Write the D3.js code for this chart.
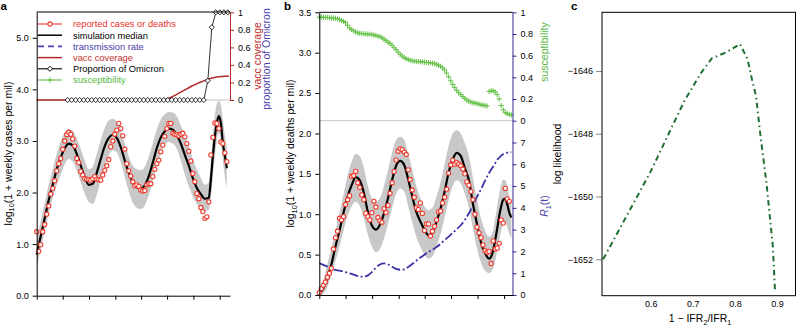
<!DOCTYPE html>
<html>
<head>
<meta charset="utf-8">
<script src="https://cdn.jsdelivr.net/npm/d3@7"></script>
<style>
  body { margin: 0; background: #fff; }
  svg { display: block; }
</style>
</head>
<body>
<script>
// weekly series start on 1 Apr 2020
const t0 = new Date(2020, 3, 1)

// a: log10(1 + weekly cases per mil), one value per week
const casesObs = [
  1.24, 0.86, 0.99, 1.24, 1.38, 1.58, 1.74, 1.97, 2.08, 2.23,
  2.42, 2.56, 2.66, 2.84, 3.00, 3.12, 3.17, 3.13, 3.04, 2.90,
  2.66, 2.58, 2.41, 2.34, 2.27, 2.26, 2.25, 2.24, 2.27, 2.31,
  2.26, 2.25, 2.24, 2.34, 2.43, 2.52, 2.64, 2.89, 3.00, 3.13,
  3.21, 3.34, 3.24, 3.10, 2.84, 2.56, 2.42, 2.32, 2.21, 2.13,
  2.15, 2.12, 2.05, 2.03, 2.04, 2.15, 2.17, 2.17, 2.31, 2.45,
  2.56, 2.63, 2.79, 2.92, 3.09, 3.24, 3.34, 3.34, 3.15, 3.13,
  3.12, 3.10, 3.13, 3.15, 3.08, 2.95, 2.80, 2.61, 2.37, 2.21,
  1.98, 1.88, 1.71, 1.63, 1.50, 1.53, 1.82, 2.73, 3.07, 3.35,
  3.34, 3.24, 2.98, 2.95, 2.77, 2.60
]

// simulation output weeks (shared by a and b)
const simWeeks = [
  0, 2, 4, 6, 8, 10, 12, 14, 16, 18, 20, 22, 24, 26, 28, 30, 32, 34, 36, 38,
  40, 42, 44, 46, 48, 50, 52, 54, 56, 58, 60, 62, 64, 66, 68, 70, 72, 74, 76, 78,
  80, 82, 84, 86, 87, 88, 89, 90, 91, 92, 93, 94, 95
]
const casesMedian = [
  0.80, 1.15, 1.50, 1.85, 2.15, 2.45, 2.68, 2.86, 2.95, 2.91, 2.75, 2.52, 2.30, 2.15, 2.17, 2.38, 2.65, 2.90, 3.06, 3.12,
  3.06, 2.88, 2.62, 2.38, 2.20, 2.10, 2.08, 2.14, 2.32, 2.58, 2.86, 3.07, 3.19, 3.24, 3.22, 3.11, 2.95, 2.73, 2.52, 2.28,
  2.09, 1.97, 1.88, 1.90, 2.25, 2.70, 3.08, 3.35, 3.48, 3.35, 2.96, 2.72, 2.47
]
const casesLow = [
  0.55, 0.90, 1.25, 1.60, 1.90, 2.15, 2.35, 2.55, 2.65, 2.60, 2.42, 2.20, 1.98, 1.82, 1.78, 1.95, 2.25, 2.50, 2.72, 2.82,
  2.78, 2.58, 2.30, 2.02, 1.80, 1.70, 1.68, 1.75, 1.95, 2.22, 2.52, 2.75, 2.92, 2.98, 2.95, 2.85, 2.62, 2.35, 2.12, 1.92,
  1.78, 1.70, 1.65, 1.66, 1.90, 2.30, 2.70, 3.00, 3.15, 3.00, 2.60, 2.30, 2.10
]
const casesHigh = [
  1.10, 1.45, 1.80, 2.15, 2.45, 2.75, 3.00, 3.17, 3.23, 3.20, 3.05, 2.85, 2.62, 2.45, 2.50, 2.75, 3.02, 3.25, 3.40, 3.43,
  3.38, 3.20, 2.95, 2.70, 2.52, 2.45, 2.43, 2.50, 2.70, 2.95, 3.22, 3.42, 3.52, 3.56, 3.55, 3.48, 3.30, 3.10, 2.90, 2.65,
  2.45, 2.28, 2.15, 2.20, 2.60, 3.10, 3.50, 3.72, 3.78, 3.70, 3.40, 3.10, 2.85
]

// a inset: vaccine coverage (every 2 weeks from week 0)
const vaccCoverage = [
  0, 0, 0, 0, 0, 0, 0, 0, 0, 0, 0, 0, 0, 0, 0, 0,
  0, 0, 0, 0, 0, 0, 0, 0, 0, 0, 0, 0, 0, 0, 0, 0,
  0.005, 0.02, 0.04, 0.065, 0.09, 0.115, 0.14, 0.165, 0.185, 0.205,
  0.222, 0.24, 0.252, 0.262, 0.268, 0.272, 0.275
]
// a inset: proportion of Omicron (every 2 weeks from week 15.5)
const omicronStart = 15.5
const omicronShare = [
  0, 0, 0, 0, 0, 0, 0, 0, 0, 0, 0, 0, 0, 0, 0, 0, 0, 0,
  0, 0, 0, 0, 0, 0, 0, 0, 0, 0, 0, 0, 0, 0, 0, 0, 0,
  0.22, 0.83, 1, 1, 1, 1
]

// b: log10(1 + weekly deaths per mil), one value per week
const deathsObs = [
  0.03, 0.08, 0.12, 0.16, 0.22, 0.27, 0.33, 0.57, 0.71, 0.79,
  0.95, 0.93, 0.97, 1.12, 1.18, 1.23, 1.47, 1.48, 1.53, 1.39,
  1.33, 1.24, 1.18, 1.01, 0.97, 0.93, 1.02, 1.16, 1.09, 0.96,
  0.92, 0.90, 1.07, 1.02, 1.11, 1.26, 1.39, 1.53, 1.67, 1.78,
  1.81, 1.80, 1.77, 1.74, 1.55, 1.43, 1.30, 1.21, 1.08, 1.06,
  1.14, 1.01, 0.80, 0.88, 0.88, 0.73, 0.79, 0.85, 0.93, 1.03,
  1.04, 1.14, 1.21, 1.31, 1.51, 1.61, 1.67, 1.62, 1.64, 1.62,
  1.60, 1.56, 1.50, 1.40, 1.36, 1.28, 1.18, 1.00, 0.84, 0.77,
  0.71, 0.62, 0.55, 0.53, 0.54, 0.39, 0.67, 0.57, 0.58, 0.64,
  0.93, 0.89, 1.32, 1.19, 1.16
]
const deathsMedian = [
  0.02, 0.08, 0.22, 0.38, 0.60, 0.80, 1.02, 1.22, 1.36, 1.46, 1.42, 1.27, 1.03, 0.86, 0.81, 0.87, 1.01, 1.20, 1.42, 1.60,
  1.66, 1.61, 1.43, 1.22, 1.03, 0.91, 0.81, 0.74, 0.77, 0.91, 1.07, 1.28, 1.52, 1.68, 1.76, 1.72, 1.57, 1.42, 1.13, 0.88,
  0.65, 0.52, 0.45, 0.55, 0.68, 0.82, 0.98, 1.10, 1.18, 1.19, 1.12, 1.02, 0.96
]
const deathsLow = [
  0.00, 0.02, 0.10, 0.25, 0.42, 0.60, 0.80, 0.98, 1.10, 1.15, 1.10, 0.95, 0.75, 0.60, 0.53, 0.57, 0.70, 0.88, 1.08, 1.25,
  1.32, 1.28, 1.10, 0.90, 0.72, 0.60, 0.50, 0.45, 0.48, 0.60, 0.76, 0.96, 1.18, 1.35, 1.42, 1.38, 1.25, 1.08, 0.82, 0.58,
  0.40, 0.30, 0.27, 0.33, 0.42, 0.55, 0.68, 0.80, 0.88, 0.90, 0.84, 0.76, 0.70
]
const deathsHigh = [
  0.05, 0.18, 0.38, 0.58, 0.80, 1.02, 1.25, 1.48, 1.65, 1.75, 1.72, 1.58, 1.35, 1.20, 1.16, 1.20, 1.35, 1.55, 1.76, 1.92,
  1.96, 1.92, 1.75, 1.55, 1.35, 1.20, 1.10, 1.05, 1.08, 1.22, 1.40, 1.62, 1.85, 2.00, 2.04, 2.00, 1.88, 1.72, 1.45, 1.18,
  0.95, 0.80, 0.72, 0.80, 0.95, 1.10, 1.25, 1.37, 1.43, 1.42, 1.35, 1.22, 1.15
]
// b: transmission rate R1(t) on simWeeks
const transmission = [
  1.45, 1.38, 1.30, 1.20, 1.15, 1.12, 1.08, 1.02, 0.97, 0.90, 0.85, 0.84, 0.90, 1.05, 1.25, 1.40, 1.45, 1.40, 1.30, 1.20,
  1.16, 1.18, 1.28, 1.42, 1.58, 1.72, 1.85, 1.97, 2.08, 2.20, 2.35, 2.52, 2.68, 2.85, 3.02, 3.20, 3.45, 3.75, 4.10, 4.50,
  4.85, 5.25, 5.60, 5.90, 6.05, 6.20, 6.30, 6.40, 6.46, 6.50, 6.53, 6.55, 6.56
]
// b inset: susceptibility, one value per week
const susceptibility = [
  0.955, 0.955, 0.954, 0.953, 0.952, 0.950, 0.948, 0.946, 0.944, 0.940,
  0.935, 0.925, 0.915, 0.905, 0.880, 0.855, 0.840, 0.828, 0.818, 0.810,
  0.806, 0.804, 0.802, 0.800, 0.798, 0.797, 0.795, 0.790, 0.786, 0.780,
  0.775, 0.765, 0.752, 0.738, 0.725, 0.714, 0.695, 0.673, 0.655, 0.632,
  0.612, 0.596, 0.582, 0.572, 0.564, 0.558, 0.553, 0.550, 0.547, 0.545,
  0.544, 0.542, 0.540, 0.538, 0.536, 0.533, 0.530, 0.526, 0.520, 0.512,
  0.502, 0.488, 0.468, 0.440, 0.405, 0.368, 0.335, 0.305, 0.280, 0.258,
  0.240, 0.222, 0.205, 0.190, 0.180, 0.172, 0.166, 0.162, 0.158, 0.152,
  0.148, 0.143, 0.140, 0.136, 0.270, 0.275, 0.277, 0.265, 0.240, 0.200,
  0.140, 0.100, 0.075, 0.065, 0.058, 0.053
]

// c: profile likelihood over 1 - IFR2/IFR1
const ifrReduction = [0.487, 0.6, 0.68, 0.72, 0.745, 0.78, 0.812, 0.83, 0.84, 0.85, 0.86, 0.875, 0.89, 0.895]
const logLik = [-1652.0, -1649.2, -1646.95, -1646.05, -1645.6, -1645.4, -1645.14, -1645.63, -1646.25, -1646.8, -1648.0, -1649.6, -1651.6, -1653.0]

const quarterTicks = [
  new Date(2020, 3, 1), new Date(2020, 6, 1), new Date(2020, 9, 1), new Date(2021, 0, 1),
  new Date(2021, 3, 1), new Date(2021, 6, 1), new Date(2021, 9, 1), new Date(2022, 0, 1)
]

const FONT = "'Liberation Sans', Arial, Helvetica, sans-serif"
const red = "#f03a2c"
const navy = "#2e2a8e"
const navyText = "#4a40aa"
const vaccRed = "#b02a2a"
const green = "#62c046"
const band = "#c8c8c8"

const weekDate = (w) => new Date(t0.getTime() + w * 7 * 864e5)

const svg = d3.select("body").append("svg")
  .attr("width", 796).attr("height", 327)
  .style("font-family", FONT)

function styleAxis(g, color, size = 9) {
  g.attr("font-family", FONT).attr("font-size", size)
  g.select(".domain").attr("stroke", color)
  g.selectAll(".tick line").attr("stroke", color)
  g.selectAll(".tick text").attr("fill", "#000")
}

function timeAxis(x, y0) {
  const g = svg.append("g").attr("transform", `translate(0,${y0})`)
    .call(d3.axisBottom(x).tickValues(quarterTicks).tickSize(4).tickSizeOuter(0).tickFormat(""))
  styleAxis(g, "#000")
  const fmt = d3.timeFormat("%b")
  quarterTicks.forEach((d) => {
    g.append("text").attr("x", x(d)).attr("y", 13.5)
      .attr("text-anchor", "middle").attr("font-size", 9).text(fmt(d))
    if (d.getMonth() === 0) {
      g.append("text").attr("x", x(d)).attr("y", 22.5)
        .attr("text-anchor", "middle").attr("font-size", 9).text(d.getFullYear())
    }
  })
}

function yTitle(x, y, parts, color = "#000", size = 10.5) {
  const t = svg.append("text")
    .attr("transform", `translate(${x},${y}) rotate(-90)`)
    .attr("text-anchor", "middle").attr("font-size", size).attr("fill", color)
  parts.forEach(([s, kind]) => {
    const ts = t.append("tspan").text(s)
    if (kind === "sub") ts.attr("font-size", size * 0.7).attr("dy", 2.5)
    if (kind === "back") ts.attr("dy", -2.5)
    if (kind === "it") ts.attr("font-style", "italic")
  })
}

const simA = simWeeks.map((w, i) => ({ date: weekDate(w), med: casesMedian[i], lo: casesLow[i], hi: casesHigh[i] }))
const simB = simWeeks.map((w, i) => ({ date: weekDate(w), med: deathsMedian[i], lo: deathsLow[i], hi: deathsHigh[i], r: transmission[i] }))

// ---------------- panel a ----------------
const xA = d3.scaleTime().domain([t0, new Date(2022, 1, 6)]).range([36.7, 230])
const yA = d3.scaleLinear().domain([0, 5.5]).range([295.7, 12])
const yAR = d3.scaleLinear().domain([0, 1]).range([100, 12.3])

svg.append("path").datum(simA)
  .attr("fill", band)
  .attr("d", d3.area().curve(d3.curveMonotoneX).x((d) => xA(d.date)).y0((d) => yA(d.lo)).y1((d) => yA(d.hi)))

svg.append("path").datum(simA)
  .attr("fill", "none").attr("stroke", "#000").attr("stroke-width", 2.2)
  .attr("d", d3.line().curve(d3.curveMonotoneX).x((d) => xA(d.date)).y((d) => yA(d.med)))

svg.append("g").selectAll("circle")
  .data(casesObs).enter().append("circle")
  .attr("cx", (d, i) => xA(weekDate(i)))
  .attr("cy", (d) => yA(d))
  .attr("r", 2.1)
  .attr("fill", "#fff").attr("stroke", red).attr("stroke-width", 1.1)

// inset zero line
svg.append("line")
  .attr("x1", xA.range()[0]).attr("x2", xA.range()[1])
  .attr("y1", yAR(0)).attr("y2", yAR(0))
  .attr("stroke", "#c4c4c4").attr("stroke-width", 1)

svg.append("path").datum(vaccCoverage)
  .attr("fill", "none").attr("stroke", vaccRed).attr("stroke-width", 1.5)
  .attr("d", d3.line().curve(d3.curveMonotoneX).x((d, i) => xA(weekDate(i * 2))).y((d) => yAR(d)))

const omicron = omicronShare.map((v, i) => ({ date: weekDate(omicronStart + i * 2), v }))
svg.append("path").datum(omicron)
  .attr("fill", "none").attr("stroke", "#000").attr("stroke-width", 0.8)
  .attr("d", d3.line().x((d) => xA(d.date)).y((d) => yAR(d.v)))
svg.append("g").selectAll("path")
  .data(omicron).enter().append("path")
  .attr("transform", (d) => `translate(${xA(d.date)},${yAR(d.v)}) rotate(45)`)
  .attr("d", d3.symbol(d3.symbolSquare, 13))
  .attr("fill", "#fff").attr("stroke", "#000").attr("stroke-width", 0.8)

styleAxis(svg.append("g").attr("transform", "translate(36.7,0)")
  .call(d3.axisLeft(yA).tickValues([0, 1, 2, 3, 4, 5]).tickSize(4).tickPadding(4).tickSizeOuter(0)), "#000")
styleAxis(svg.append("g").attr("transform", "translate(230,0)")
  .call(d3.axisRight(yAR).tickValues([0, 0.2, 0.4, 0.6, 0.8, 1]).tickFormat(d3.format("~g")).tickSize(4).tickPadding(4).tickSizeOuter(0)), vaccRed)
timeAxis(xA, 295.7)
svg.append("line").attr("x1", 36.7).attr("x2", 230).attr("y1", 12).attr("y2", 12).attr("stroke", "#000")

yTitle(11.5, 153.5, [["log"], ["10", "sub"], ["(1 + weekly cases per mil)", "back"]])
yTitle(261, 56, [["vacc coverage"]], "#c0302d")
yTitle(269.5, 59, [["proportion of Omicron"]], navyText)

// legend
const legendItems = [
  { label: "reported cases or deaths", stroke: red, text: "#e8322a", mark: "circle" },
  { label: "simulation median", stroke: "#000", text: "#000", mark: "none" },
  { label: "transmission rate", stroke: "#4a40b0", text: navyText, mark: "dash" },
  { label: "vacc coverage", stroke: vaccRed, text: "#c0302d", mark: "none" },
  { label: "Proportion of Omicron", stroke: "#000", text: "#000", mark: "diamond" },
  { label: "susceptibility", stroke: green, text: "#55b83f", mark: "plus" }
]
const legend = svg.append("g")
legendItems.forEach((d, i) => {
  const y = 24 + i * 11.2
  legend.append("line").attr("x1", 38).attr("x2", 62).attr("y1", y).attr("y2", y)
    .attr("stroke", d.stroke)
    .attr("stroke-width", d.mark === "dash" ? 1.8 : d.mark === "none" ? 1.5 : 1.1)
    .attr("stroke-dasharray", d.mark === "dash" ? "6,4" : null)
  if (d.mark === "circle") {
    legend.append("circle").attr("cx", 50).attr("cy", y).attr("r", 2.1)
      .attr("fill", "#fff").attr("stroke", d.stroke).attr("stroke-width", 1.1)
  } else if (d.mark === "diamond") {
    legend.append("path").attr("transform", `translate(50,${y}) rotate(45)`)
      .attr("d", d3.symbol(d3.symbolSquare, 13))
      .attr("fill", "#fff").attr("stroke", "#000").attr("stroke-width", 0.9)
  } else if (d.mark === "plus") {
    legend.append("path").attr("transform", `translate(50,${y})`)
      .attr("d", "M-2.8,0H2.8M0,-2.8V2.8").attr("stroke", d.stroke).attr("stroke-width", 1.1)
  }
  legend.append("text").attr("x", 73).attr("y", y + 3.3)
    .attr("font-size", 9.3).attr("fill", d.text).text(d.label)
})

// ---------------- panel b ----------------
const xB = d3.scaleTime().domain([t0, new Date(2022, 0, 30)]).range([319.3, 512.5])
const yB = d3.scaleLinear().domain([0, 3.5]).range([295, 12.3])
const yBS = d3.scaleLinear().domain([0, 1]).range([120.7, 12.3])
const yBR = d3.scaleLinear().domain([0, 8]).range([295, 120.7])

svg.append("path").datum(simB)
  .attr("fill", band)
  .attr("d", d3.area().curve(d3.curveMonotoneX).x((d) => xB(d.date)).y0((d) => yB(d.lo)).y1((d) => yB(d.hi)))

svg.append("path").datum(simB)
  .attr("fill", "none").attr("stroke", "#3a34a6").attr("stroke-width", 1.8)
  .attr("stroke-dasharray", "9,2.5,2,2.5")
  .attr("d", d3.line().curve(d3.curveMonotoneX).x((d) => xB(d.date)).y((d) => yBR(d.r)))

svg.append("path").datum(simB)
  .attr("fill", "none").attr("stroke", "#000").attr("stroke-width", 2.2)
  .attr("d", d3.line().curve(d3.curveMonotoneX).x((d) => xB(d.date)).y((d) => yB(d.med)))

svg.append("g").selectAll("circle")
  .data(deathsObs).enter().append("circle")
  .attr("cx", (d, i) => xB(weekDate(i)))
  .attr("cy", (d) => yB(d))
  .attr("r", 2.1)
  .attr("fill", "#fff").attr("stroke", red).attr("stroke-width", 1.1)

svg.append("line")
  .attr("x1", xB.range()[0]).attr("x2", xB.range()[1])
  .attr("y1", yBS(0)).attr("y2", yBS(0))
  .attr("stroke", "#c4c4c4").attr("stroke-width", 1)

svg.append("g").selectAll("path")
  .data(susceptibility).enter().append("path")
  .attr("transform", (d, i) => `translate(${xB(weekDate(i))},${yBS(d)})`)
  .attr("d", "M-2.6,0H2.6M0,-2.6V2.6")
  .attr("stroke", green).attr("stroke-width", 1)

styleAxis(svg.append("g").attr("transform", "translate(319.3,0)")
  .call(d3.axisLeft(yB).tickValues(d3.range(0, 3.51, 0.5)).tickFormat(d3.format(".1f")).tickSize(4).tickPadding(4).tickSizeOuter(0)), "#000")
styleAxis(svg.append("g").attr("transform", "translate(512.5,0)")
  .call(d3.axisRight(yBS).tickValues([0, 0.2, 0.4, 0.6, 0.8, 1]).tickFormat(d3.format("~g")).tickSize(4).tickPadding(4).tickSizeOuter(0)), navy)
styleAxis(svg.append("g").attr("transform", "translate(512.5,0)")
  .call(d3.axisRight(yBR).tickValues(d3.range(0, 8)).tickSize(4).tickPadding(4).tickSizeOuter(0)), navy)
timeAxis(xB, 295)
svg.append("line").attr("x1", 319.3).attr("x2", 512.5).attr("y1", 12.3).attr("y2", 12.3).attr("stroke", "#000")

yTitle(294, 153.5, [["log"], ["10", "sub"], ["(1 + weekly deaths per mil)", "back"]])
yTitle(548, 52, [["susceptibility"]], "#55b83f")
yTitle(548, 206, [["R", "it"], ["1", "sub"], ["(t)", "back"]], navyText)

// ---------------- panel c ----------------
const xC = d3.scaleLinear().domain([0.4843, 0.9437]).range([602, 795.5])
const yC = d3.scaleLinear().domain([-1653.16, -1644.13]).range([295.7, 12.3])

svg.append("path").datum(ifrReduction)
  .attr("fill", "none").attr("stroke", "#1f6e31").attr("stroke-width", 2)
  .attr("stroke-dasharray", "5.5,3.5,1.5,3.5")
  .attr("d", d3.line().x((d) => xC(d)).y((d, i) => yC(logLik[i])))

const axC = svg.append("g").attr("transform", "translate(602,0)")
  .call(d3.axisLeft(yC).tickValues([-1646, -1648, -1650, -1652]).tickFormat(d3.format("d")).tickSize(6).tickPadding(3).tickSizeOuter(0))
styleAxis(axC, "#888")
axC.select(".domain").remove()

const axCx = svg.append("g").attr("transform", "translate(0,295.7)")
  .call(d3.axisBottom(xC).tickValues([0.6, 0.7, 0.8, 0.9]).tickFormat(d3.format(".1f")).tickSize(0).tickPadding(5))
styleAxis(axCx, "#000")
axCx.select(".domain").remove()

svg.append("rect").attr("x", 602).attr("y", 12.3).attr("width", 193.5).attr("height", 283.4)
  .attr("fill", "none").attr("stroke", "#000").attr("stroke-width", 1)

yTitle(561, 154, [["log likelihood"]])

const xl = svg.append("text").attr("x", 700).attr("y", 322).attr("text-anchor", "middle").attr("font-size", 10.5)
xl.append("tspan").text("1 \u2212 IFR")
xl.append("tspan").text("2").attr("font-size", 7.3).attr("dy", 2.5)
xl.append("tspan").text("/IFR").attr("dy", -2.5)
xl.append("tspan").text("1").attr("font-size", 7.3).attr("dy", 2.5)

// panel letters
;[["a", 0.5], ["b", 284], ["c", 571]].forEach(([s, x]) => {
  svg.append("text").attr("x", x).attr("y", 10).attr("font-size", 11.5)
    .attr("font-weight", "bold").text(s)
})
</script>
</body>
</html>
